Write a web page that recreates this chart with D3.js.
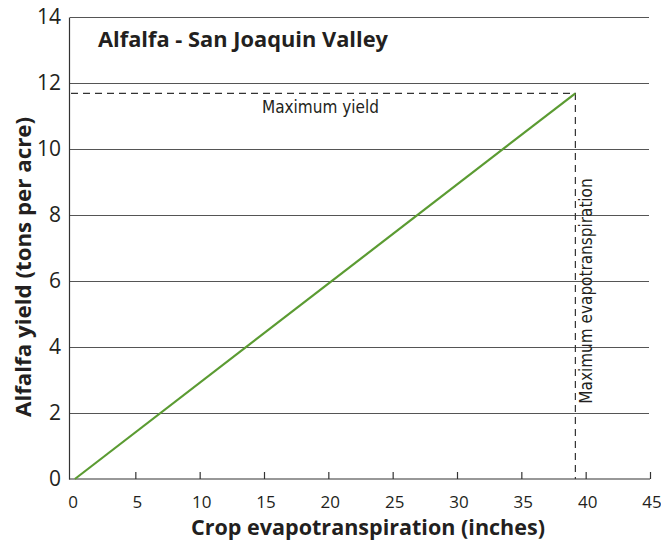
<!DOCTYPE html>
<html><head><meta charset="utf-8">
<script src="https://cdn.jsdelivr.net/npm/d3@7"></script>
<style>body{margin:0;background:#fff}</style>
</head><body>
<svg id="c" width="661" height="541"></svg>
<script>
const xTicks = [0,5,10,15,20,25,30,35,40,45];
const yTicks = [0,2,4,6,8,10,12,14];
const yieldLine = [{et:0.3, y:0},{et:39.2, y:11.7}];
const maxPoint = {et:39.2, y:11.7};
const title = "Alfalfa - San Joaquin Valley";
const xTitle = "Crop evapotranspiration (inches)";
const yTitle = "Alfalfa yield (tons per acre)";

const svg = d3.select("#c");
const x = d3.scaleLinear().domain([0,45]).range([71,650]);
const y = d3.scaleLinear().domain([0,14]).range([479,17.5]);
const font = "'Open Sans', sans-serif";
const narrow = "'Liberation Sans Narrow', 'DejaVu Sans Condensed', sans-serif";

// gridlines
svg.append("g").selectAll("line").data(yTicks.filter(d=>d>0)).join("line")
  .attr("x1", 70).attr("x2", 649).attr("y1", d=>y(d)).attr("y2", d=>y(d))
  .attr("stroke", "#555").attr("stroke-width", 1).attr("shape-rendering","crispEdges");

// axes lines
svg.append("line").attr("x1",69.5).attr("x2",69.5).attr("y1",y(14)).attr("y2",y(0)+0.5)
  .attr("stroke","#333").attr("stroke-width",1.2);
svg.append("line").attr("x1",69).attr("x2",650).attr("y1",y(0)).attr("y2",y(0))
  .attr("stroke","#333").attr("stroke-width",1.2);

// x ticks (inward)
const xAxis = d3.axisTop(x).tickValues(xTicks.filter(d=>d>0)).tickSize(7).tickFormat("");
const gx = svg.append("g").attr("transform",`translate(0,${y(0)})`).call(xAxis);
gx.select(".domain").remove();
gx.selectAll("line").attr("stroke","#333").attr("stroke-width",1.2);
svg.append("g").selectAll("text").data(xTicks).join("text")
  .attr("x", d=>x(d)+2).attr("y", 508).attr("text-anchor","middle")
  .attr("font-family",font).attr("font-size",17).attr("fill","#231f20").text(d=>d);

// y tick labels
svg.append("g").selectAll("text").data(yTicks).join("text")
  .attr("x", 61).attr("y", d=>y(d)+6.5).attr("text-anchor","end")
  .attr("font-family",font).attr("font-size",21).attr("fill","#231f20").text(d=>d);

// dashed reference lines
svg.append("path")
  .attr("d", `M${x(0)},${y(maxPoint.y)}H${x(maxPoint.et)}V${y(0)}`)
  .attr("fill","none").attr("stroke","#333").attr("stroke-width",1.2).attr("stroke-dasharray","7,5");

// green line
svg.append("path").datum(yieldLine)
  .attr("d", d3.line().x(d=>x(d.et)).y(d=>y(d.y)))
  .attr("fill","none").attr("stroke","#5b9b32").attr("stroke-width",2.2);

// annotations
svg.append("text").attr("x",262).attr("y",113).attr("font-family",narrow)
  .attr("font-size",17).attr("fill","#231f20").text("Maximum yield");
svg.append("text").attr("transform","translate(592,291) rotate(-90)").attr("text-anchor","middle")
  .attr("font-family",narrow)
  .attr("font-size",17).attr("fill","#231f20").text("Maximum evapotranspiration");

// titles
svg.append("text").attr("x",98).attr("y",47).attr("font-family",font).attr("font-weight","bold")
  .attr("font-size",21).attr("textLength",290).attr("lengthAdjust","spacingAndGlyphs")
  .attr("fill","#231f20").text(title);
svg.append("text").attr("x",368).attr("y",535).attr("text-anchor","middle").attr("font-family",font).attr("font-weight","bold")
  .attr("font-size",21.5).attr("textLength",354).attr("lengthAdjust","spacingAndGlyphs")
  .attr("fill","#231f20").text(xTitle);
svg.append("text").attr("transform","translate(31,267) rotate(-90)").attr("text-anchor","middle").attr("font-family",font).attr("font-weight","bold")
  .attr("font-size",21.5).attr("textLength",300).attr("lengthAdjust","spacingAndGlyphs")
  .attr("fill","#231f20").text(yTitle);
</script>
</body></html>
